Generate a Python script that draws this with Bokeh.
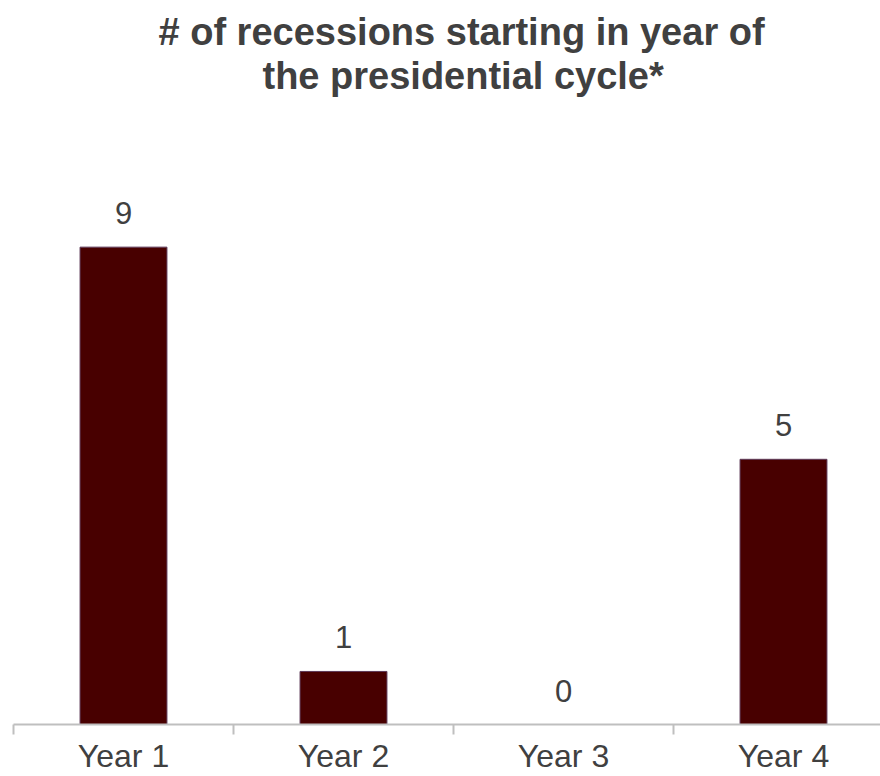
from bokeh.plotting import figure
from bokeh.models import ColumnDataSource, FixedTicker, Range1d, Title
from bokeh.core.properties import value
from bokeh.embed import file_html
from bokeh.resources import INLINE

categories = ["Year 1", "Year 2", "Year 3", "Year 4"]
recessions = [9, 1, 0, 5]
title_lines = ["# of recessions starting in year of", "the presidential cycle*"]
title_offsets = [145, 249]

centers = [i + 0.5 for i in range(len(categories))]
src = ColumnDataSource(dict(x=centers, top=recessions, label=[str(v) for v in recessions]))

p = figure(width=880, height=776, output_backend="svg", toolbar_location=None,
           x_range=Range1d(0, 867 / 220), y_range=Range1d(0, 11.84),
           min_border_left=13, min_border_right=0, min_border_top=0, min_border_bottom=0)
# add second line first so the first line sits above it
for line, off in reversed(list(zip(title_lines, title_offsets))):
    p.add_layout(Title(text=line, align="left", text_font="Liberation Sans",
                       text_font_size="38px", text_font_style="bold", text_color="#404040",
                       offset=off, standoff=0), "above")
# small spacer above the title
p.add_layout(Title(text=" ", text_font_size="5px", standoff=0), "above")
p.outline_line_color = None
p.grid.visible = False
p.yaxis.visible = False

p.vbar(x="x", top="top", width=0.395, bottom=0, source=src,
       fill_color="#480000", line_color="#5e3a58", line_width=1)
p.text(x="x", y="top", text="label", source=src, text_font=value("Liberation Sans"),
       text_font_size="31px", text_color="#404040", text_align="center",
       text_baseline="alphabetic", y_offset=-34)

ax = p.xaxis[0]
ax.ticker = FixedTicker(ticks=centers, minor_ticks=[0, 1, 2, 3, 4])
ax.major_label_overrides = {c: lab for c, lab in zip(centers, categories)}
ax.major_tick_out = 0
ax.major_tick_in = 0
ax.minor_tick_out = 10
ax.minor_tick_in = 0
ax.minor_tick_line_color = "#bfbfbf"
ax.minor_tick_line_width = 2
ax.axis_line_color = "#bfbfbf"
ax.axis_line_width = 2
ax.major_label_text_font = "Liberation Sans"
ax.major_label_text_font_size = "32px"
ax.major_label_text_color = "#404040"
ax.major_label_standoff = 3

open("out.html", "w").write(file_html(p, INLINE))
